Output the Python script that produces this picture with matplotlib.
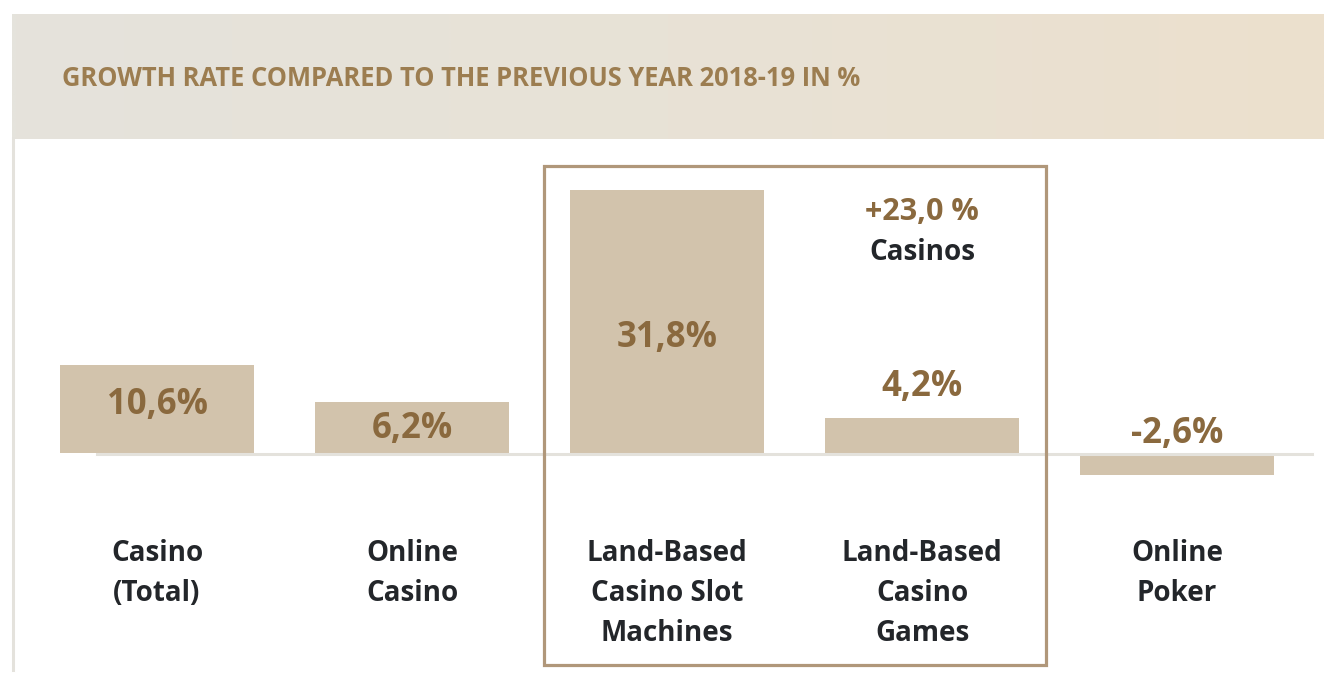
import matplotlib
matplotlib.use("Agg")
import matplotlib.pyplot as plt
import matplotlib.transforms as mtransforms
from matplotlib.patches import Rectangle
from matplotlib.lines import Line2D
from matplotlib.colors import LinearSegmentedColormap
import numpy as np

# ---------------- data ----------------
title = "GROWTH RATE COMPARED TO THE PREVIOUS YEAR 2018-19 IN %"
categories = ["Casino\n(Total)", "Online\nCasino",
              "Land-Based\nCasino Slot\nMachines",
              "Land-Based\nCasino\nGames", "Online\nPoker"]
values = [10.6, 6.2, 31.8, 4.2, -2.6]
value_labels = ["10,6%", "6,2%", "31,8%", "4,2%", "-2,6%"]
casinos_growth_label = "+23,0 %"
casinos_growth_caption = "Casinos"

# ---------------- style ----------------
W, H, DPI = 1324, 673, 100
FONT = ["Open Sans", "DejaVu Sans"]
BAR_COLOR = "#d2c3ac"
VALUE_COLOR = "#8a693e"
TITLE_COLOR = "#9c7d50"
TEXT_COLOR = "#23262a"
LINE_GRAY = "#e4e2dc"
BOX_COLOR = "#b0977a"

plt.rcParams["font.family"] = FONT

fig = plt.figure(figsize=(W / DPI, H / DPI), dpi=DPI, facecolor="white")


def fx(px):
    return px / W


def fy(py):
    return 1 - py / H


# header band with gradient
hax = fig.add_axes([fx(12), fy(139), fx(W - 12), 125 / H])
cmap = LinearSegmentedColormap.from_list("hdr", ["#e5e3dc", "#e8e2d6", "#ece0cd"])
hax.imshow(np.linspace(0, 1, 512)[None, :], aspect="auto", cmap=cmap,
           extent=[0, 1, 0, 1])
hax.axis("off")
fig.text(fx(62), fy(86), title, color=TITLE_COLOR, fontsize=18.4,
         fontweight="bold", ha="left", va="baseline")

# main axes (full figure, pixel-matched limits)
ax = fig.add_axes([0, 0, 1, 1])
ax.patch.set_alpha(0)
ax.axis("off")
step = 255.0
x0 = 157.0
base_py = 453.0
scale = 8.27
ax.set_xlim(-x0 / step, (W - x0) / step)
ax.set_ylim(-(H - base_py) / scale, base_py / scale)

xs = np.arange(len(values))
ax.bar(xs, values, width=0.76, color=BAR_COLOR, zorder=1)

# baseline
fig.add_artist(Line2D([fx(97), fx(1312)], [fy(454), fy(454)],
                      color=LINE_GRAY, lw=2.2, zorder=3))
# left border
fig.add_artist(Line2D([fx(12.5), fx(12.5)], [fy(139), fy(670)],
                      color=LINE_GRAY, lw=2.2, zorder=3))
# highlight box
fig.add_artist(Rectangle((fx(543.5), fy(664.5)), fx(1045.5 - 543.5),
                         (664.5 - 165.5) / H, fill=False,
                         edgecolor=BOX_COLOR, lw=2.3, zorder=3))

trans = mtransforms.blended_transform_factory(ax.transData, fig.transFigure)

value_baselines = [414, 438, 347, 396, 443]
for x, lab, by in zip(xs, value_labels, value_baselines):
    ax.text(x, fy(by), lab, transform=trans, ha="center", va="baseline",
            color=VALUE_COLOR, fontsize=25, fontweight="bold", zorder=4)

for x, cat in zip(xs, categories):
    for j, line in enumerate(cat.split("\n")):
        ax.text(x, fy(561 + 40 * j), line, transform=trans, ha="center",
                va="baseline", color=TEXT_COLOR, fontsize=20,
                fontweight="bold", zorder=4)

ax.text(3, fy(220), casinos_growth_label, transform=trans, ha="center",
        va="baseline", color=VALUE_COLOR, fontsize=22, fontweight="bold")
ax.text(3, fy(260), casinos_growth_caption, transform=trans, ha="center",
        va="baseline", color=TEXT_COLOR, fontsize=20, fontweight="bold")

fig.savefig("out.png", dpi=DPI, facecolor="white")
